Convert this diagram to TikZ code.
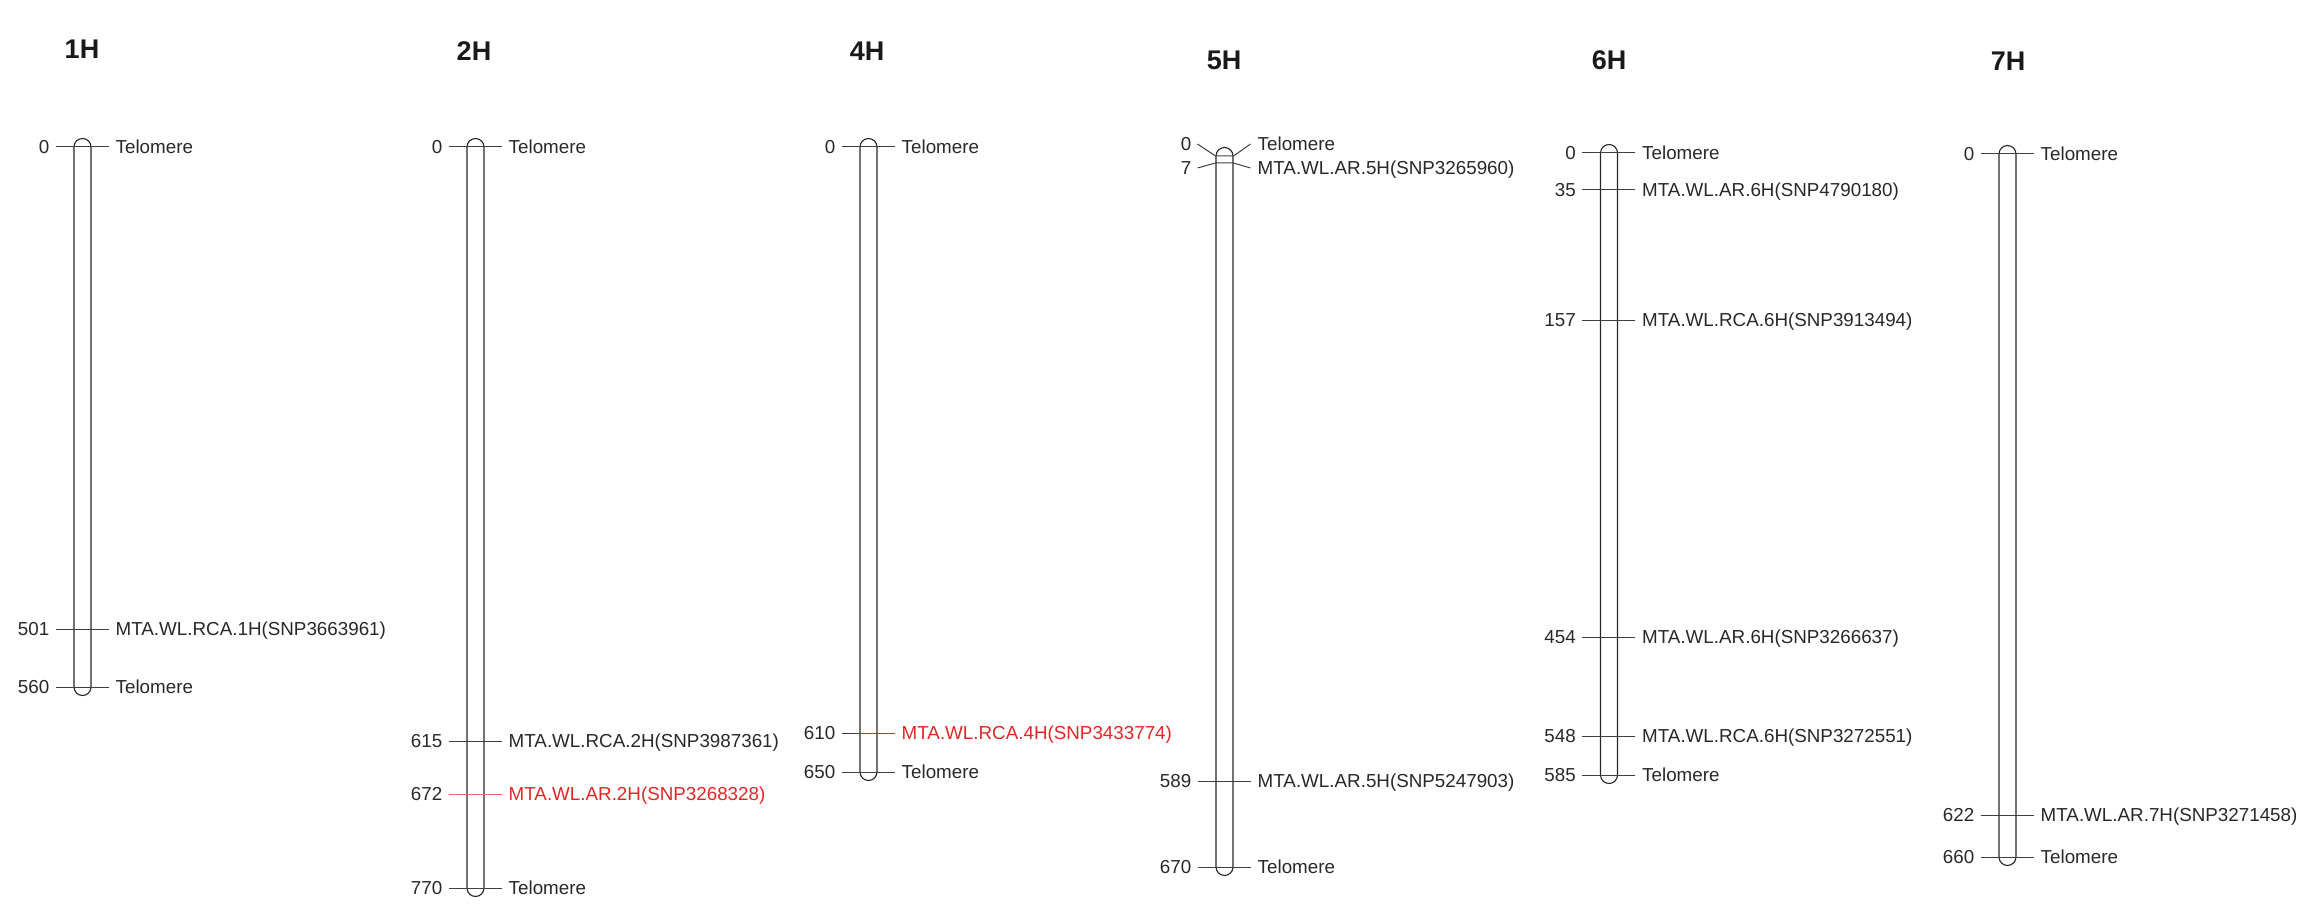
\documentclass[tikz,border=0pt]{standalone}
\usepackage{fontspec}
\setmainfont{Liberation Sans}
\definecolor{txt}{RGB}{40,40,40}
\definecolor{mred}{RGB}{226,38,38}
\tikzset{
  num/.style={inner xsep=6pt, inner ysep=0pt, text height=13pt, text depth=0pt, text=txt, font=\fontsize{18.8}{22}\selectfont},
  lab/.style={inner xsep=7pt, inner ysep=0pt, text height=13pt, text depth=0pt, text=txt, font=\fontsize{18.8}{22}\selectfont},
  ttl/.style={inner sep=0pt, text=black!90, font=\fontsize{27}{30}\selectfont\bfseries},
  tick/.style={line width=1pt, draw=black!75},
  bar/.style={line width=1.1pt, draw=black!85},
}
\newcommand\chrom[3]{%
  \draw[bar] ({#1-8.5},{-#2}) -- ({#1-8.5},{-#3}) arc[start angle=180,end angle=360,radius=8.5]
    -- ({#1+8.5},{-#2}) arc[start angle=0,end angle=180,radius=8.5] -- cycle;}
\newcommand\mrk[6]{%
  \node[num, anchor=east] (#1n) at ({#2-27},{-#3}) {#4};
  \node[lab, anchor=west, text=#6] (#1l) at ({#2+26},{-#3}) {#5};
  \draw[tick] (#1n.east) -- (#1l.west);}
\begin{document}
\begin{tikzpicture}[x=1pt,y=1pt]
\useasboundingbox (0,0) rectangle (2321,-920);
% titles
\node[ttl] (t1) at (82,-49) {1H};
\node[ttl] (t2) at (474,-51) {2H};
\node[ttl] (t4) at (867,-51) {4H};
\node[ttl] (t5) at (1224,-60) {5H};
\node[ttl] (t6) at (1609,-60) {6H};
\node[ttl] (t7) at (2008,-61) {7H};
% 1H
\chrom{82.5}{147}{687}
\mrk{a1}{82.5}{147}{0}{Telomere}{txt}
\mrk{a2}{82.5}{629}{501}{MTA.WL.RCA.1H(SNP3663961)}{txt}
\mrk{a3}{82.5}{687}{560}{Telomere}{txt}
% 2H
\chrom{475.5}{147}{888}
\mrk{b1}{475.5}{147}{0}{Telomere}{txt}
\mrk{b2}{475.5}{741}{615}{MTA.WL.RCA.2H(SNP3987361)}{txt}
\node[num, anchor=east] (b3n) at (448.5,-794) {672};
\node[lab, anchor=west, text=mred] (b3l) at (501.5,-794) {MTA.WL.AR.2H(SNP3268328)};
\draw[tick, draw=mred!70, line width=0.8pt] (b3n.east) -- (b3l.west);
\mrk{b4}{475.5}{888}{770}{Telomere}{txt}
% 4H
\chrom{868.5}{147}{772}
\mrk{c1}{868.5}{147}{0}{Telomere}{txt}
\node[num, anchor=east] (c2n) at (841.5,-733) {610};
\node[lab, anchor=west, text=mred] (c2l) at (894.5,-733) {MTA.WL.RCA.4H(SNP3433774)};
\coordinate (c2b) at (860,-733);
\draw[tick] (c2n.east) -- (c2b);
\draw[tick, draw=mred] (c2b) -- (c2l.west);
\mrk{c3}{868.5}{772}{650}{Telomere}{txt}
% 5H
\chrom{1224.5}{156}{867}
\node[num, anchor=east] (d1n) at (1197.5,-144) {0};
\node[lab, anchor=west] (d1l) at (1250.5,-144) {Telomere};
\draw[tick] (d1n.east) -- (1215.5,-156) -- (1233.5,-156) -- (d1l.west);
\node[num, anchor=east] (d2n) at (1197.5,-168) {7};
\node[lab, anchor=west] (d2l) at (1250.5,-168) {MTA.WL.AR.5H(SNP3265960)};
\draw[tick] (d2n.east) -- (1215.5,-163) -- (1233.5,-163) -- (d2l.west);
\mrk{d3}{1224.5}{781}{589}{MTA.WL.AR.5H(SNP5247903)}{txt}
\mrk{d4}{1224.5}{867}{670}{Telomere}{txt}
% 6H
\chrom{1609}{153}{775}
\mrk{e1}{1609}{153}{0}{Telomere}{txt}
\mrk{e2}{1609}{190}{35}{MTA.WL.AR.6H(SNP4790180)}{txt}
\mrk{e3}{1609}{320}{157}{MTA.WL.RCA.6H(SNP3913494)}{txt}
\mrk{e4}{1609}{637}{454}{MTA.WL.AR.6H(SNP3266637)}{txt}
\mrk{e5}{1609}{736}{548}{MTA.WL.RCA.6H(SNP3272551)}{txt}
\mrk{e6}{1609}{775}{585}{Telomere}{txt}
% 7H
\chrom{2007.5}{154}{857}
\mrk{f1}{2007.5}{154}{0}{Telomere}{txt}
\mrk{f2}{2007.5}{815}{622}{MTA.WL.AR.7H(SNP3271458)}{txt}
\mrk{f3}{2007.5}{857}{660}{Telomere}{txt}
\end{tikzpicture}
\end{document}
